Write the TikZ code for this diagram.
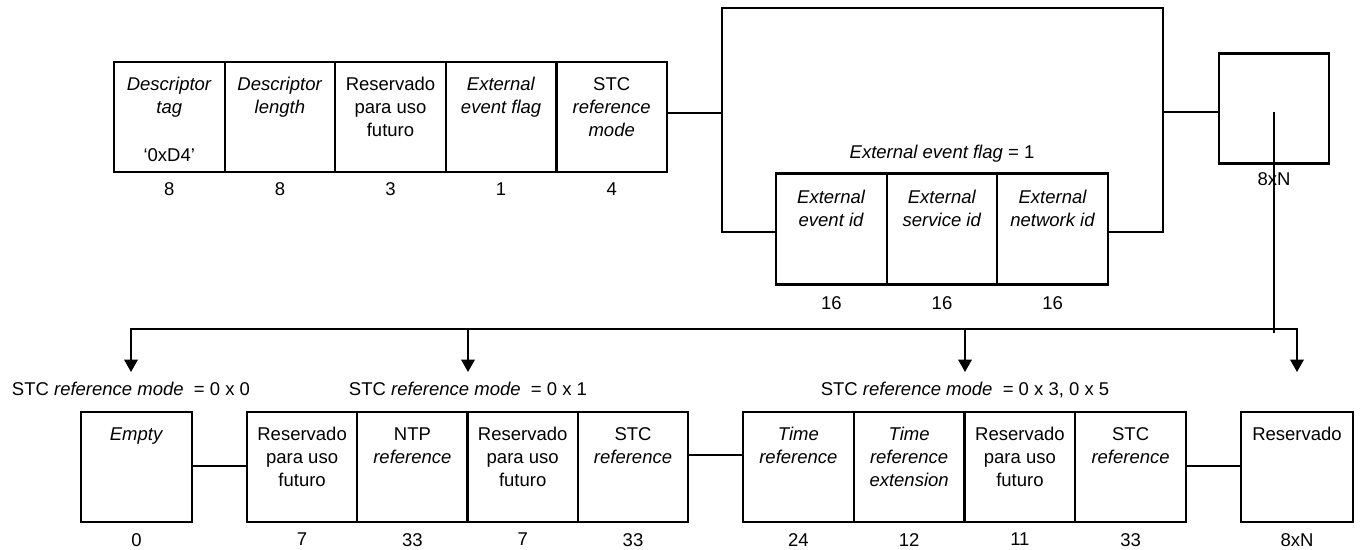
\documentclass[tikz,border=0pt]{standalone}
\usepackage{fontspec}
\setmainfont{Liberation Sans}
\usetikzlibrary{arrows.meta}
\newcommand\myfs{\fontsize{18.5}{23}\selectfont}
\begin{document}
\begin{tikzpicture}[x=1pt,y=-1pt,
  line width=2.2pt,
  cell/.style={draw, fill=white, minimum width=110.6pt, minimum height=110pt, inner sep=0pt, outer sep=0pt},
  txt/.style={anchor=north, inner sep=0pt, yshift=-14.4pt, align=center, font=\myfs},
  num/.style={anchor=north, inner sep=0pt, yshift=-10pt, font=\myfs},
  lab/.style={anchor=base, inner sep=0pt, font=\myfs},
  tip/.tip={Triangle[length=12.5pt,width=13.5pt]},
  arr/.style={-tip},
  ]
\useasboundingbox (0,0) rectangle (1360,549);

% top row
\node[cell, label={[txt]north:{\textit{Descriptor}\\\textit{tag}\\[25pt]‘0xD4’}}, label={[num, yshift=0.5pt]south:8}] (t1) at (169.3,117) {};
\node[cell, label={[txt]north:{\textit{Descriptor}\\\textit{length}}}, label={[num, yshift=0.5pt]south:8}] (t2) at (279.9,117) {};
\node[cell, label={[txt]north:{Reservado\\para uso\\futuro}}, label={[num, yshift=0.5pt]south:3}] (t3) at (390.5,117) {};
\node[cell, label={[txt]north:{\textit{External}\\\textit{event flag}}}, label={[num, yshift=0.5pt]south:1}] (t4) at (501.1,117) {};
\node[cell, label={[txt]north:{STC\\\textit{reference}\\\textit{mode}}}, label={[num, yshift=0.5pt]south:4}] (t5) at (611.7,117) {};

% frame
\node[draw, minimum width=441pt, minimum height=224pt, inner sep=0pt, outer sep=0pt] (frame) at (942.5,120) {};
\node[lab] (flag) at (942,158.6) {\textit{External event flag} = 1};
\node[cell, minimum width=110.67pt, minimum height=111pt, label={[txt, yshift=-1.5pt]north:{\textit{External}\\\textit{event id}}}, label={[num, yshift=-1pt]south:16}] (x1) at (831.3,229) {};
\node[cell, minimum width=110.67pt, minimum height=111pt, label={[txt, yshift=-1.5pt]north:{\textit{External}\\\textit{service id}}}, label={[num, yshift=-1pt]south:16}] (x2) at (942,229) {};
\node[cell, minimum width=110.67pt, minimum height=111pt, label={[txt, yshift=-1.5pt]north:{\textit{External}\\\textit{network id}}}, label={[num, yshift=-1pt]south:16}] (x3) at (1052.7,229) {};

% small box
\node[cell, label={[num, yshift=2pt]south:8xN}] (sb) at (1274,108.5) {};

% top connectors
\draw ([yshift=4pt]t5.east) -- ([yshift=4pt]t5.east -| frame.west);
\draw ([yshift=8pt]frame.east) -- ([yshift=8pt]frame.east -| sb.west);

% bus
\coordinate (bus) at (0,329);
\coordinate (a1) at (131,329);
\coordinate (a2) at (468,329);
\coordinate (a3) at (965,329);
\coordinate (a4) at (1297,329);
\coordinate (e1) at (131,372);
\coordinate (e2) at (468,372);
\coordinate (e3) at (965,372);
\coordinate (e4) at (1297,372);
\draw ([yshift=-3.5pt]sb.center) -- ([yshift=-3.5pt]sb.center |- bus);
\draw[tip-tip] (e1) -- (a1) -- (a4) -- (e4);
\draw[arr] (a2) -- (e2);
\draw[arr] (a3) -- (e3);

% mode labels
\node[lab] (m0) at (131,395.6) {STC \textit{reference mode}\ \ = 0 x 0};
\node[lab] (m1) at (468,395.6) {STC \textit{reference mode}\ \ = 0 x 1};
\node[lab] (m3) at (965,395.6) {STC \textit{reference mode}\ \ = 0 x 3, 0 x 5};

% bottom row
\node[cell, minimum width=111pt, label={[txt]north:{\textit{Empty}}}, label={[num]south:0}] (b0) at (136.5,467) {};

\node[cell, minimum width=110.3pt, label={[txt]north:{Reservado\\para uso\\futuro}}, label={[num]south:7}] (b1) at (302.1,467) {};
\node[cell, minimum width=110.3pt, label={[txt]north:{NTP\\\textit{reference}}}, label={[num]south:33}] (b2) at (412.4,467) {};
\node[cell, minimum width=110.3pt, label={[txt]north:{Reservado\\para uso\\futuro}}, label={[num]south:7}] (b3) at (522.7,467) {};
\node[cell, minimum width=110.3pt, label={[txt]north:{STC\\\textit{reference}}}, label={[num]south:33}] (b4) at (633.0,467) {};

\node[cell, minimum width=110.75pt, label={[txt]north:{\textit{Time}\\\textit{reference}}}, label={[num]south:24}] (c1) at (798.4,467) {};
\node[cell, minimum width=110.75pt, label={[txt]north:{\textit{Time}\\\textit{reference}\\\textit{extension}}}, label={[num]south:12}] (c2) at (909.1,467) {};
\node[cell, minimum width=110.75pt, label={[txt]north:{Reservado\\para uso\\futuro}}, label={[num]south:11}] (c3) at (1019.9,467) {};
\node[cell, minimum width=110.75pt, label={[txt]north:{STC\\\textit{reference}}}, label={[num]south:33}] (c4) at (1130.6,467) {};

\node[cell, minimum width=112pt, label={[txt]north:{Reservado}}, label={[num]south:8xN}] (r) at (1297,467) {};

% bottom connectors
\draw ([yshift=1pt]b0.east) -- ([yshift=1pt]b0.east -| b1.west);
\draw ([yshift=12pt]b4.east) -- ([yshift=12pt]b4.east -| c1.west);
\draw ([yshift=1pt]c4.east) -- ([yshift=1pt]c4.east -| r.west);
\end{tikzpicture}
\end{document}
